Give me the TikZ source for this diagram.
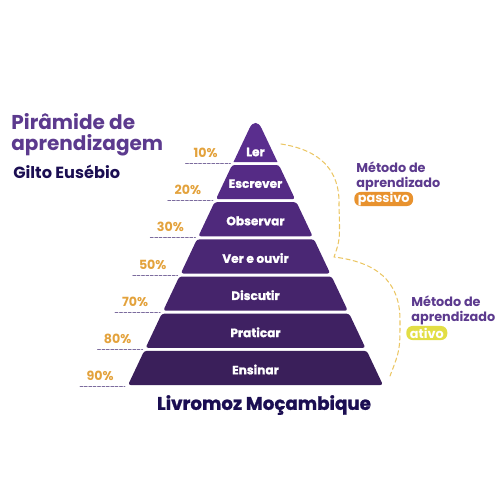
\documentclass[tikz,border=0pt]{standalone}
\usepackage{fontspec}
\setmainfont{Poppins}
\newfontfamily\heavy{Poppins}[BoldFeatures={FakeBold=1.2}]
\definecolor{bandtop}{HTML}{5A2E8E}
\definecolor{bandbot}{HTML}{3A1F5A}
\definecolor{titlecol}{HTML}{5C3A8E}
\definecolor{navy}{HTML}{1B0E52}
\definecolor{pctcol}{HTML}{E3A23C}
\definecolor{dashcol}{HTML}{7C6C9E}
\definecolor{passcol}{HTML}{E8922E}
\definecolor{ativcol}{HTML}{E2DE45}
\definecolor{curvecol}{HTML}{EBC664}
\tikzset{
	bandtxt/.style={text=white, font=\fontsize{6.9}{8}\heavy\bfseries, inner sep=0pt},
	pct/.style={text=pctcol, font=\fontsize{7.2}{8}\selectfont\bfseries, inner sep=0pt},
	pctline/.style={dashcol, line width=0.5pt, dash pattern=on 1.6pt off 0.9pt},
	metodo/.style={text=titlecol, font=\fontsize{7.3}{8.8}\selectfont\bfseries, align=left, inner sep=0pt, anchor=north west},
	badge/.style={rounded corners=3.5pt, text=white, font=\fontsize{7.3}{8}\selectfont\bfseries, inner xsep=2pt, inner ysep=0pt, minimum height=8pt, anchor=west},
	curve/.style={curvecol, line width=0.6pt, dash pattern=on 2.5pt off 1.8pt}
}
\begin{document}
\begin{tikzpicture}[x=0.02cm, y=-0.02cm, line join=round, line cap=round]
	\useasboundingbox (0,0) rectangle (500,500);
	\def\cx{255.5}
	\def\k{0.473}
	\def\ya{115.5}
	% titulo
	\node[text=titlecol, font=\fontsize{11.4}{12}\selectfont\bfseries, anchor=west, inner sep=0pt] (tit1) at (11,122) {Pirâmide de};
	\node[text=titlecol, font=\fontsize{11.4}{12}\selectfont\bfseries, anchor=west, inner sep=0pt] (tit2) at (11,145) {aprendizagem};
	\node[text=navy, font=\fontsize{9.2}{10}\selectfont\bfseries, anchor=west, inner sep=0pt] (autor) at (13,172) {Gilto Eusébio};
	% piramide
	\foreach \i/\txt/\pc in {1/Ler/10,2/Escrever/20,3/Observar/30,4/Ver e ouvir/50,5/Discutir/70,6/Praticar/80,7/Ensinar/90}{
		\pgfmathsetmacro{\yb}{162+(\i-1)*37.17}
		\pgfmathsetmacro{\yt}{\yb-34.17}
		\pgfmathsetmacro{\wt}{(\yt-\ya)*\k}
		\pgfmathsetmacro{\wb}{(\yb-\ya)*\k}
		\pgfmathtruncatemacro{\mix}{100-(\i-1)*100/6}
		\ifnum\i=1
			\fill[bandtop!\mix!bandbot] (\cx-\wb,\yb) -- (\cx+\wb,\yb) [rounded corners=8pt] -- (\cx,\ya) [sharp corners] -- cycle;
			\node[bandtxt] (band\i) at (\cx,\yb-10) {\txt};
		\else
			\fill[bandtop!\mix!bandbot, rounded corners=1.5pt] (\cx-\wt,\yt) -- (\cx+\wt,\yt) -- (\cx+\wb,\yb) -- (\cx-\wb,\yb) -- cycle;
			\node[bandtxt] (band\i) at (\cx,\yb-15.5) {\txt};
		\fi
		\node[pct] (p\i) at (\cx-\wb-28,\yb-9) {\pc\%};
		\coordinate (d\i) at (\cx-\wb-48,\yb+1.5);
		\coordinate (e\i) at (\cx-\wb-3,\yb+1.5);
		\draw[pctline] (d\i) -- (e\i);
	}
	% metodos
	\coordinate (cA) at (281,144);
	\coordinate (cB) at (334,257);
	\coordinate (cC) at (390,376);
	\draw[curve] (cA) .. controls (320,150) and (340,170) .. (339,205) .. controls (340,240) .. (cB) .. controls (375,262) and (400,280) .. (400,320) .. controls (400,350) .. (cC);
	\node[metodo] (met1) at (356,161) {Método de\\aprendizado};
	\node[badge, fill=passcol] (passivo) at (354,199) {passivo};
	\node[metodo] (met2) at (411,295) {Método de\\aprendizado};
	\node[badge, fill=ativcol] (ativo) at (406,333) {ativo};
	\node[text=navy, font=\fontsize{10.4}{11}\heavy\bfseries, inner sep=0pt] (livro) at (264,405) {Livromoz Moçambique};
\end{tikzpicture}
\end{document}
